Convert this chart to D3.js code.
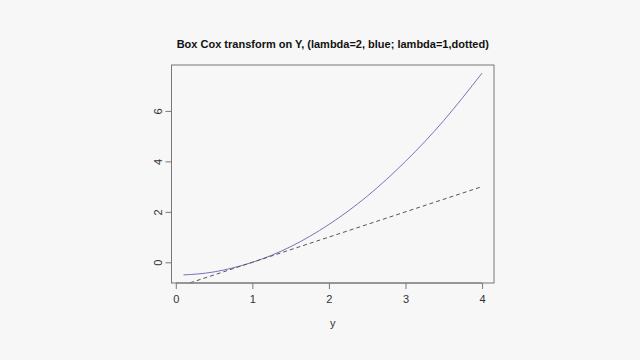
<!DOCTYPE html>
<html>
<head>
<meta charset="utf-8">
<script src="https://cdn.jsdelivr.net/npm/d3@7"></script>
<style>
  body { margin: 0; background: #f7f7f7; }
  svg { display: block; font-family: "Liberation Sans", Arial, sans-serif; }
</style>
</head>
<body>
<div id="chart"></div>
<script>
// values
const yValues = [0.1, 0.5, 1, 1.5, 2, 2.5, 3, 3.5, 4];
const lambda2 = [-0.5, -0.38, 0, 0.62, 1.5, 2.62, 4, 5.62, 7.5];
const lineY = [0.1, 4];
const lambda1 = [-0.9, 3.0];
const xTicks = [0, 1, 2, 3, 4];
const yTicks = [0, 2, 4, 6];

const W = 640, H = 360;
const box = {left: 171.5, right: 494, top: 65, bottom: 283};

const svg = d3.select('#chart')
    .append('svg')
    .attr('width', W)
    .attr('height', H);

svg.append('rect')
    .attr('width', W).attr('height', H)
    .attr('fill', '#f7f7f7');

// R-style 4% padding around the data range
const xScale = d3.scaleLinear()
    .domain([-0.056, 4.156])
    .range([box.left, box.right]);

const yScale = d3.scaleLinear()
    .domain([-0.82, 7.82])
    .range([box.bottom, box.top]);

svg.append('clipPath')
    .attr('id', 'plotclip')
    .append('rect')
    .attr('x', box.left).attr('y', box.top)
    .attr('width', box.right - box.left)
    .attr('height', box.bottom - box.top);

// Lines
const blue = yValues.map((v, i) => [v, lambda2[i]]);
const dotted = lineY.map((v, i) => [v, lambda1[i]]);

const line = d3.line()
    .x(d => xScale(d[0]))
    .y(d => yScale(d[1]))
    .curve(d3.curveNatural);

const g = svg.append('g').attr('clip-path', 'url(#plotclip)');

g.append('path')
    .datum(blue)
    .attr('d', line)
    .attr('fill', 'none')
    .attr('stroke', '#7474bc')
    .attr('stroke-width', 1);

g.append('path')
    .datum(dotted)
    .attr('d', d3.line().x(d => xScale(d[0])).y(d => yScale(d[1])))
    .attr('fill', 'none')
    .attr('stroke', '#555')
    .attr('stroke-width', 1)
    .attr('stroke-dasharray', '4,3');

// Box
svg.append('rect')
    .attr('x', box.left).attr('y', box.top)
    .attr('width', box.right - box.left)
    .attr('height', box.bottom - box.top)
    .attr('fill', 'none')
    .attr('stroke', '#777')
    .attr('stroke-width', 1);

// Axes
const xAxis = svg.append('g')
    .attr('transform', `translate(0,${box.bottom})`)
    .call(d3.axisBottom(xScale).tickValues(xTicks).tickSize(6).tickPadding(6).tickFormat(d3.format('d')));

const yAxis = svg.append('g')
    .attr('transform', `translate(${box.left},0)`)
    .call(d3.axisLeft(yScale).tickValues(yTicks).tickSize(6).tickPadding(6).tickFormat(d3.format('d')));

[xAxis, yAxis].forEach(a => {
    a.select('.domain').attr('stroke', '#777');
    a.selectAll('.tick line').attr('stroke', '#777');
    a.selectAll('.tick text')
        .attr('fill', '#333')
        .style('font-size', '11px')
        .style('font-family', '"Liberation Sans", Arial, sans-serif');
});
xAxis.select('.domain').attr('d', `M${xScale(0)},0V0H${xScale(4)}V0`);
yAxis.select('.domain').attr('d', `M0,${yScale(0)}H0V${yScale(6)}H0`);

yAxis.selectAll('.tick text')
    .attr('x', 0).attr('dy', 0)
    .attr('text-anchor', 'middle')
    .attr('transform', 'translate(-10,0) rotate(-90)');

// Labels
svg.append('text')
    .attr('x', (box.left + box.right) / 2)
    .attr('y', 48)
    .attr('text-anchor', 'middle')
    .attr('fill', '#111')
    .style('font-size', '11px')
    .style('font-weight', 'bold')
    .text('Box Cox transform on Y, (lambda=2, blue; lambda=1,dotted)');

svg.append('text')
    .attr('x', (box.left + box.right) / 2)
    .attr('y', 327)
    .attr('text-anchor', 'middle')
    .attr('fill', '#333')
    .style('font-size', '11px')
    .text('y');
</script>
</body>
</html>
